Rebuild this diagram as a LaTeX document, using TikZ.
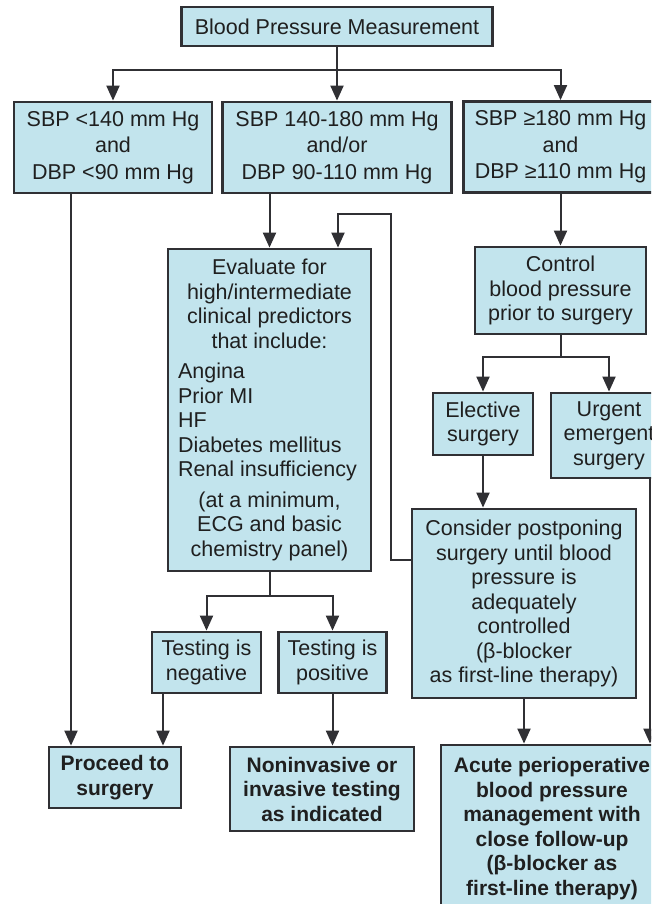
\documentclass[tikz,border=0pt]{standalone}
\usepackage{fontspec}
\setmainfont{Liberation Sans}
\usetikzlibrary{arrows.meta}
\definecolor{boxblue}{RGB}{194,228,237}
\definecolor{linegray}{RGB}{48,48,52}
\begin{document}
\begin{tikzpicture}[x=1pt, y=-1pt,
  box/.style={draw=linegray, line width=2.8pt, fill=boxblue, align=center, inner sep=0pt, text=black!88, font=\fontsize{21.5}{24.5}\selectfont},
  rowbox/.style={box, font=\fontsize{21.5}{26.5}\selectfont, minimum height=91pt},
  boldbox/.style={box, font=\fontsize{21}{24.5}\selectfont\bfseries},
  arr/.style={draw=linegray, line width=2pt, -{Triangle[length=15pt, width=13pt]}},
  ln/.style={draw=linegray, line width=2pt}]
  \useasboundingbox (0, 0) rectangle (651, 904);
  \clip (0, 0) rectangle (651, 904);
  \node[box, minimum width=311pt, minimum height=39pt] (bpm) at (337, 26.5) {Blood Pressure Measurement};
  \node[rowbox, minimum width=198pt] (low) at (113, 147.5) {SBP <140 mm Hg\\and\\DBP <90 mm Hg};
  \node[rowbox, minimum width=229pt] (mid) at (337, 147.5) {SBP 140-180 mm Hg\\and/or\\DBP 90-110 mm Hg};
  \node[rowbox, minimum width=194pt] (high) at (560.5, 147) {SBP ≥180 mm Hg\\and\\DBP ≥110 mm Hg};
  \node[box, minimum width=203pt, minimum height=322pt] (eval) at (269.5, 410) {Evaluate for\\high/intermediate\\clinical predictors\\that include:\\[6pt]
    \makebox[183pt][l]{Angina}\\\makebox[183pt][l]{Prior MI}\\\makebox[183pt][l]{HF}\\\makebox[183pt][l]{Diabetes mellitus}\\\makebox[183pt][l]{Renal insufficiency}\\[6pt]
    (at a minimum,\\ECG and basic\\chemistry panel)};
  \node[box, minimum width=171pt, minimum height=87pt] (control) at (560.5, 290.5) {Control\\blood pressure\\prior to surgery};
  \node[box, minimum width=100pt, minimum height=62pt] (elective) at (483, 424) {Elective\\surgery};
  \node[box, minimum width=116pt, minimum height=85pt] (urgent) at (609, 435.5) {Urgent\\emergent\\surgery};
  \node[box, minimum width=224pt, minimum height=189pt] (consider) at (524, 603.5) {Consider postponing\\surgery until blood\\pressure is\\adequately\\controlled\\(β-blocker\\as first-line therapy)};
  \node[box, minimum width=109pt, minimum height=61pt] (neg) at (206.5, 662.5) {Testing is\\negative};
  \node[box, minimum width=108pt, minimum height=61pt] (pos) at (332.5, 662.5) {Testing is\\positive};
  \node[boldbox, minimum width=132pt, minimum height=61pt] (proceed) at (115, 777.5) {Proceed to\\surgery};
  \node[boldbox, minimum width=184pt, minimum height=84pt] (noninv) at (322, 789) {Noninvasive or\\invasive testing\\as indicated};
  \node[boldbox, minimum width=222pt, minimum height=167pt] (acute) at (552, 828.5) {Acute perioperative\\blood pressure\\management with\\close follow-up\\(β-blocker as\\first-line therapy)};
  \coordinate (t1) at (337, 70);
  \coordinate (t2) at (560.5, 357);
  \coordinate (t3) at (269.5, 596);
  \coordinate (loop) at (391, 214);
  \draw[ln] (bpm.south) -- (t1);
  \draw[arr] (t1) -| (low.north);
  \draw[arr] (t1) -- (mid.north);
  \draw[arr] (t1) -| (high.north);
  \draw[arr] ([xshift=-42pt]low.south) -- ([xshift=-42pt]low.south |- proceed.north);
  \draw[arr] (eval.north |- mid.south) -- (eval.north);
  \draw[arr] ([yshift=43.5pt]consider.west) -| (loop) -| ([xshift=68.5pt]eval.north);
  \draw[arr] (high.south) -- (control.north);
  \draw[ln] (control.south) -- (t2);
  \draw[arr] (t2) -| (elective.north);
  \draw[arr] (t2) -| (urgent.north);
  \draw[arr] (elective.south) -- (elective.south |- consider.north);
  \draw[arr] ([xshift=41pt]urgent.south) -- ([xshift=41pt]urgent.south |- acute.north);
  \draw[arr] (consider.south) -- (consider.south |- acute.north);
  \draw[ln] (eval.south) -- (t3);
  \draw[arr] (t3) -| (neg.north);
  \draw[arr] (t3) -| (pos.north);
  \draw[arr] ([xshift=-43.5pt]neg.south) -- ([xshift=-43.5pt]neg.south |- proceed.north);
  \draw[arr] (pos.south) -- (pos.south |- noninv.north);
\end{tikzpicture}
\end{document}
